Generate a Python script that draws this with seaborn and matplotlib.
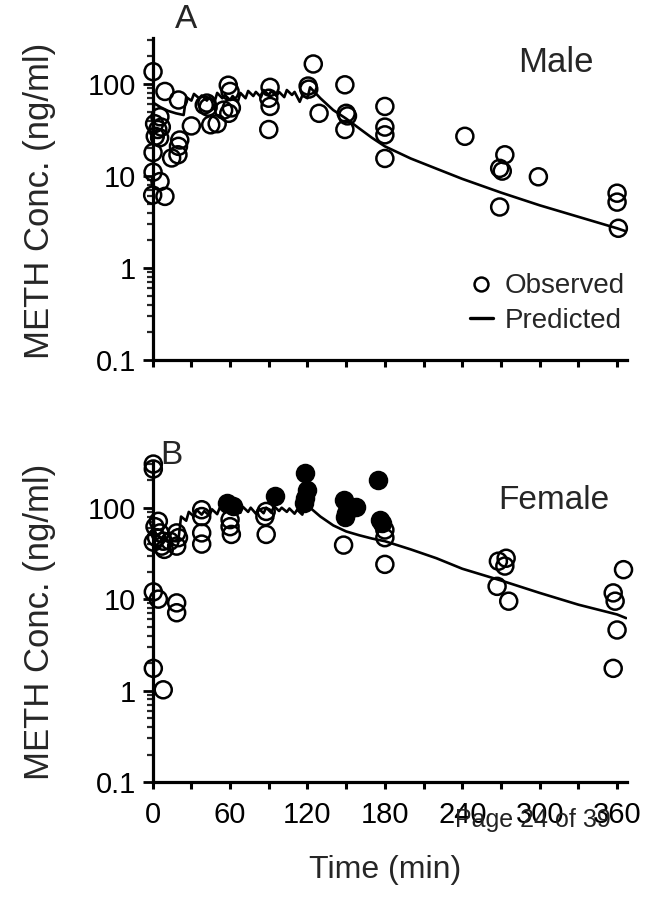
import numpy as np
import matplotlib
matplotlib.use("Agg")
import matplotlib.pyplot as plt
import seaborn as sns
from matplotlib.ticker import LogLocator, NullFormatter
from matplotlib.lines import Line2D

# ---------------- data ----------------
male_obs_t = [0.3, 9.5, 20, 5.6, 1.5, 6.7, 4, 5.4, 2, 0.3, 0.3, 5.7, 0, 9.5, 14.7, 19.6, 21, 20,
              30, 40, 42, 43, 45, 50, 58.6, 60, 61, 59, 55, 91, 90, 91, 90, 120.5, 121, 124.5, 129,
              149, 150, 151, 149, 180, 180, 180, 180, 242, 273, 269, 271, 299, 269, 360, 360, 361]
male_obs_c = [136, 83, 67, 44, 37, 34, 32, 26, 27, 18, 11, 8.7, 6.2, 6, 15.7, 17, 24.6, 21,
              35, 59, 62, 56, 36, 37, 97, 83, 55, 48, 52, 92, 70, 57, 32, 95, 88, 165, 48,
              98, 48, 45, 32, 57, 34, 28, 15.5, 27, 17, 12.1, 11.3, 9.8, 4.6, 6.5, 5.2, 2.7]

male_pred_t = [0, 1, 6, 12, 18, 24, 26, 30, 32, 36, 38, 42, 44, 48, 50, 54, 56, 60, 62, 66, 68,
               72, 74, 78, 80, 84, 86, 90, 92, 96, 98, 102, 104, 108, 110, 114, 116, 120, 122,
               130, 140, 150, 160, 170, 180, 200, 220, 240, 270, 300, 330, 360, 367]
male_pred_c = [3, 62, 56, 51, 48, 46, 72, 66, 78, 70, 75, 66, 72, 64, 80, 70, 76, 67, 74, 64, 80,
               70, 84, 74, 82, 72, 86, 76, 84, 74, 82, 72, 86, 76, 82, 64, 75, 70, 92,
               70, 52, 42, 33, 26, 21, 15.5, 12, 9.3, 6.6, 4.8, 3.6, 2.7, 2.5]

female_obs_t = [0.5, 0.5, 4.4, 1.8, 5.6, 3, 8.2, 7, 9, 0.5, 18.6, 20, 18.6, 13.4, 38, 38, 38, 38,
                60, 60, 61, 88, 87, 88, 0.5, 4.4, 18.6, 18.6, 0.5, 8.2, 148, 180, 180, 180,
                268, 274, 273, 267, 276, 365, 357, 358.5, 360, 357]
female_obs_c = [300, 265, 71, 62, 53, 47, 43, 38, 35, 42, 53, 47, 38, 43, 95, 80, 53, 40,
                74, 62, 51, 91, 80, 51, 12, 10, 9.1, 7.1, 1.75, 1.02, 39, 57, 47, 24,
                26, 28, 23, 13.8, 9.5, 21, 11.7, 9.5, 4.6, 1.75]

female_fill_t = [58, 62, 94.5, 118, 119.5, 118, 117, 148, 149, 150, 158, 175, 176, 178]
female_fill_c = [112, 105, 135, 240, 157, 127, 112, 122, 80, 88, 103, 202, 74, 68]

female_pred_t = [0, 1, 3, 8, 14, 20, 22, 26, 28, 32, 34, 38, 40, 44, 46, 50, 52, 56, 58, 62, 64,
                 68, 70, 74, 76, 80, 82, 86, 88, 92, 94, 98, 100, 104, 106, 110, 112, 116, 118,
                 122, 130, 140, 150, 160, 170, 180, 200, 220, 240, 270, 300, 330, 360, 367]
female_pred_c = [280, 60, 50, 45, 42, 45, 80, 72, 90, 80, 95, 84, 92, 82, 96, 85, 100, 88, 105,
                 92, 100, 88, 102, 90, 100, 86, 98, 87, 100, 88, 104, 92, 100, 90, 98, 86, 95,
                 84, 108, 100, 80, 64, 55, 50, 46, 43, 35, 28, 21.5, 16, 11.7, 8.7, 6.8, 6.2]

x_major = [0, 60, 120, 180, 240, 300, 360]
x_minor = [30, 90, 150, 210, 270, 330]
y_major = [0.1, 1, 10, 100]
y_labels = ["0.1", "1", "10", "100"]

# ---------------- style ----------------
sns.set_theme(style="ticks")
plt.rcParams["font.family"] = ["Liberation Sans", "DejaVu Sans"]

fig = plt.figure(figsize=(6.45, 8.99), dpi=100)
ax1 = fig.add_axes([0.2367, 0.5996, 0.7360, 0.3581])
ax2 = fig.add_axes([0.2367, 0.1301, 0.7360, 0.3560])

MS = 150
EW = 1.8


def style(ax, show_x):
    ax.set_yscale("log")
    ax.set_ylim(0.1, 316)
    ax.set_xlim(0, 368)
    for s in ("top", "right"):
        ax.spines[s].set_visible(False)
    for s in ("left", "bottom"):
        ax.spines[s].set_linewidth(2.3)
        ax.spines[s].set_color("black")
    ax.set_yticks(y_major)
    ax.set_yticklabels(y_labels)
    ax.yaxis.set_minor_locator(LogLocator(base=10, subs=np.arange(2, 10)))
    ax.yaxis.set_minor_formatter(NullFormatter())
    ax.set_xticks(x_major)
    ax.set_xticks(x_minor, minor=True)
    if show_x:
        ax.set_xticklabels([str(v) for v in x_major])
    else:
        ax.set_xticklabels([])
    ax.tick_params(axis="y", which="major", direction="out", length=7, width=2,
                   labelsize=21, pad=5, colors="black")
    ax.tick_params(axis="y", which="minor", direction="out", length=4, width=1.6)
    ax.tick_params(axis="x", which="both", direction="out", length=5, width=2.2,
                   labelsize=21, pad=9, colors="black")
    ax.set_xlabel("")
    ax.set_ylabel("")
    ax.patch.set_alpha(0)


# top panel - male
sns.lineplot(x=male_pred_t, y=male_pred_c, ax=ax1, color="black", linewidth=1.9,
             sort=False, estimator=None, zorder=2)
sns.scatterplot(x=male_obs_t, y=male_obs_c, ax=ax1, marker="o", s=MS, facecolor="none",
                edgecolor="black", linewidth=EW, clip_on=False, zorder=3, legend=False)
style(ax1, False)

# bottom panel - female
sns.lineplot(x=female_pred_t, y=female_pred_c, ax=ax2, color="black", linewidth=1.9,
             sort=False, estimator=None, zorder=2)
sns.scatterplot(x=female_obs_t, y=female_obs_c, ax=ax2, marker="o", s=MS, facecolor="none",
                edgecolor="black", linewidth=EW, clip_on=False, zorder=3, legend=False)
sns.scatterplot(x=female_fill_t, y=female_fill_c, ax=ax2, marker="o", s=MS, facecolor="black",
                edgecolor="black", linewidth=EW, clip_on=False, zorder=4, legend=False)
style(ax2, True)

# panel letters and titles
ax1.text(0.07, 1.056, "A", transform=ax1.transAxes, fontsize=24, ha="center", va="center")
ax2.text(0.04, 1.02, "B", transform=ax2.transAxes, fontsize=24, ha="center", va="center")
ax1.text(0.85, 0.925, "Male", transform=ax1.transAxes, fontsize=25, ha="center", va="center")
ax2.text(0.845, 0.88, "Female", transform=ax2.transAxes, fontsize=24, ha="center", va="center")

# legend
handles = [
    Line2D([], [], marker="o", linestyle="none", markerfacecolor="none",
           markeredgecolor="black", markersize=10, markeredgewidth=1.8, label="Observed"),
    Line2D([], [], color="black", linewidth=2.4, label="Predicted"),
]
ax1.legend(handles=handles, loc="center left", bbox_to_anchor=(0.64, 0.175), frameon=False,
           fontsize=20, handlelength=0.8, handletextpad=0.45, labelspacing=0.3, borderpad=0)

# axis labels
fig.text(40 / 645, 1 - 201 / 899, "METH Conc. (ng/ml)", rotation=90, fontsize=25,
         ha="center", va="center")
fig.text(40 / 645, 1 - 622 / 899, "METH Conc. (ng/ml)", rotation=90, fontsize=25,
         ha="center", va="center")
fig.text(385 / 645, 1 - 870 / 899, "Time (min)", fontsize=23, ha="center", va="center")

# page footer text overlapping tick labels (as in the source)
fig.text(455 / 645, 1 - 820 / 899, "Page 24 of 39", fontsize=18, ha="left", va="center",
         color="#222222")

fig.savefig("out.png", dpi=100)
